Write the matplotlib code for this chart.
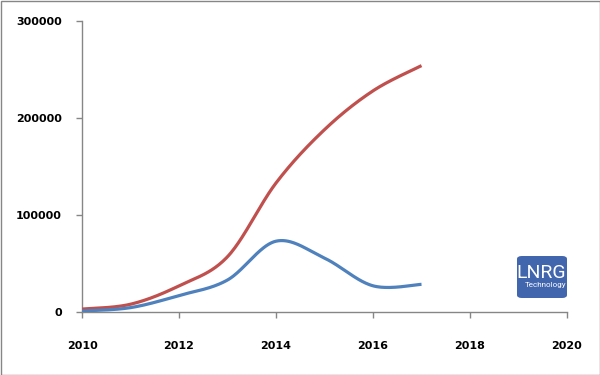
import numpy as np
import matplotlib
matplotlib.use("Agg")
import matplotlib.pyplot as plt
from matplotlib.patches import FancyBboxPatch, Rectangle

years = [2010, 2011, 2012, 2013, 2014, 2015, 2016, 2017]
red_values = [3000, 8000, 27000, 57000, 133000, 188000, 228000, 254000]
blue_values = [1000, 4500, 17000, 33000, 73000, 55500, 27000, 28500]
x_ticks = [2010, 2012, 2014, 2016, 2018, 2020]
y_ticks = [0, 100000, 200000, 300000]

RED = "#C0504D"
BLUE = "#4F81BD"
GRAY = "#868686"


def smooth(xs, ys, n=40):
    """Excel-style smoothed line: cubic Bezier segments with Catmull-Rom control points."""
    xs = np.asarray(xs, float)
    ys = np.asarray(ys, float)
    pts = np.column_stack([xs, ys])
    out = []
    m = len(pts)
    for i in range(m - 1):
        p0 = pts[i - 1] if i > 0 else pts[i]
        p1 = pts[i]
        p2 = pts[i + 1]
        p3 = pts[i + 2] if i + 2 < m else pts[i + 1]
        c1 = p1 + (p2 - p0) / 6.0
        c2 = p2 - (p3 - p1) / 6.0
        t = np.linspace(0, 1, n, endpoint=(i == m - 2))[:, None]
        seg = ((1 - t) ** 3) * p1 + 3 * ((1 - t) ** 2) * t * c1 + 3 * (1 - t) * t ** 2 * c2 + t ** 3 * p2
        out.append(seg)
    out = np.vstack(out)
    return out[:, 0], out[:, 1]


fig = plt.figure(figsize=(6, 3.75), dpi=100)
ax = fig.add_axes([82 / 600, 1 - 312 / 375, (567 - 82) / 600, (312 - 21) / 375])

rx, ry = smooth(years, red_values)
bx, by = smooth(years, blue_values)
ax.plot(rx, ry, color=RED, lw=2.3, solid_capstyle="butt", zorder=3)
ax.plot(bx, by, color=BLUE, lw=2.3, solid_capstyle="butt", zorder=3)

ax.set_xlim(2010, 2020)
ax.set_ylim(0, 300000)
ax.set_xticks(x_ticks)
ax.set_yticks(y_ticks)
ax.set_xticklabels([str(v) for v in x_ticks])
ax.set_yticklabels([str(v) for v in y_ticks])

for s in ["top", "right"]:
    ax.spines[s].set_visible(False)
for s in ["left", "bottom"]:
    ax.spines[s].set_color(GRAY)
    ax.spines[s].set_linewidth(1.0)

ax.tick_params(axis="x", direction="out", length=4, width=1, color=GRAY, pad=17,
               labelsize=8, labelcolor="black")
ax.tick_params(axis="y", direction="out", length=4, width=1, color=GRAY, pad=10.5,
               labelsize=8, labelcolor="black")
for lab in ax.get_xticklabels() + ax.get_yticklabels():
    lab.set_fontweight("bold")
    lab.set_family("DejaVu Sans")

# outer chart border
fig.patches.append(Rectangle((0.5 / 600, 0.5 / 375), 599 / 600, 374 / 375,
                             transform=fig.transFigure, fill=False,
                             edgecolor=GRAY, lw=1.0, zorder=10))

# logo
bx0, by0, bw, bh = 517 / 600, 1 - 298 / 375, 50 / 600, 42 / 375
fig.patches.append(FancyBboxPatch((bx0, by0), bw, bh,
                                  boxstyle="round,pad=0,rounding_size=0.008",
                                  transform=fig.transFigure, facecolor="#4166AE",
                                  edgecolor="none", zorder=5))
fig.text(541 / 600, 1 - 273.5 / 375, "LNRG", color="white", fontsize=14,
         ha="center", va="center", family="Roboto", zorder=6)
fig.text(566.5 / 600, 1 - 285.5 / 375, "Technology", color="white", fontsize=5.8,
         ha="right", va="center", family="Roboto", zorder=6)

fig.savefig("out.png", dpi=100, facecolor="white")
